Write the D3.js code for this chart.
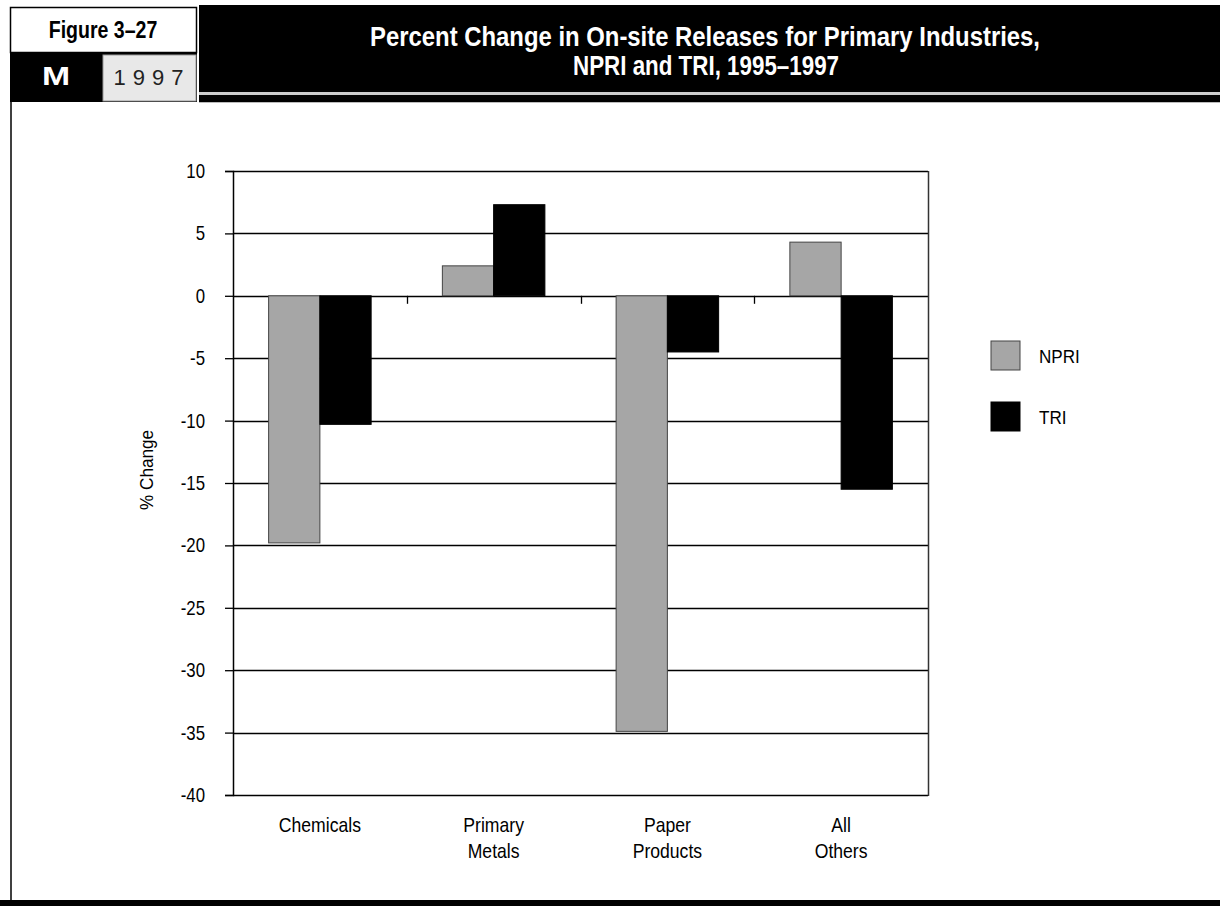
<!DOCTYPE html>
<html>
<head>
<meta charset="utf-8">
<script src="https://cdn.jsdelivr.net/npm/d3@7"></script>
<style>
  html, body { margin: 0; padding: 0; background: #fff; }
  svg { display: block; }
</style>
</head>
<body>
<svg id="chart" width="1220" height="906"></svg>
<script>
const categories = [["Chemicals"], ["Primary", "Metals"], ["Paper", "Products"], ["All", "Others"]];
const categoryKeys = ["Chemicals", "Primary Metals", "Paper Products", "All Others"];
const seriesNames = ["NPRI", "TRI"];
const npriValues = [-19.8, 2.4, -34.9, 4.3];
const triValues = [-10.3, 7.3, -4.5, -15.5];
const yTicks = [10, 5, 0, -5, -10, -15, -20, -25, -30, -35, -40];
const seriesColors = ["#a6a6a6", "#000000"];

const svg = d3.select("#chart");
const FONT = '"Liberation Sans", Arial, Helvetica, sans-serif';

function ctext(parent, x, y, str, opts) {
  const o = Object.assign({ size: 19, sx: 0.86, anchor: "start", weight: "normal", fill: "#000" }, opts || {});
  const gg = parent.append("g").attr("transform", `translate(${x},${y}) scale(${o.sx},1)`);
  const t = gg.append("text").attr("x", 0).attr("y", 0)
    .attr("text-anchor", o.anchor).attr("font-family", FONT)
    .attr("font-size", o.size).attr("font-weight", o.weight).attr("fill", o.fill).text(str);
  if (o.ls) t.attr("letter-spacing", o.ls);
  return gg;
}

// ---------- header ----------
svg.append("rect").attr("x", 10.5).attr("y", 7.5).attr("width", 186).attr("height", 45)
  .attr("fill", "#fff").attr("stroke", "#000").attr("stroke-width", 1.5);
ctext(svg, 103, 38, "Figure 3\u201327", { size: 23, sx: 0.85, anchor: "middle", weight: "bold" });

svg.append("rect").attr("x", 10).attr("y", 52).attr("width", 187).attr("height", 50).attr("fill", "#000");
ctext(svg, 56, 85, "M", { size: 26, sx: 1.3, anchor: "middle", weight: "bold", fill: "#fff" });
svg.append("rect").attr("x", 103).attr("y", 55).attr("width", 93).attr("height", 46)
  .attr("fill", "#e8e8e8").attr("stroke", "#999").attr("stroke-width", 1);
ctext(svg, 152, 85, "1997", { size: 22, sx: 1, anchor: "middle", fill: "#222", ls: "7px" });

svg.append("rect").attr("x", 199).attr("y", 5).attr("width", 1021).attr("height", 87).attr("fill", "#000");
svg.append("rect").attr("x", 199).attr("y", 92).attr("width", 1021).attr("height", 3).attr("fill", "#ccc");
svg.append("rect").attr("x", 199).attr("y", 95).attr("width", 1021).attr("height", 7).attr("fill", "#000");
svg.append("rect").attr("x", 199).attr("y", 102).attr("width", 1021).attr("height", 1).attr("fill", "#bbb");
svg.append("text").attr("x", 370).attr("y", 46)
  .attr("font-family", FONT).attr("font-weight", "bold").attr("font-size", 28).attr("fill", "#fff")
  .attr("textLength", 670).attr("lengthAdjust", "spacingAndGlyphs")
  .text("Percent Change in On-site Releases for Primary Industries,");
svg.append("text").attr("x", 573).attr("y", 75)
  .attr("font-family", FONT).attr("font-weight", "bold").attr("font-size", 28).attr("fill", "#fff")
  .attr("textLength", 266).attr("lengthAdjust", "spacingAndGlyphs")
  .text("NPRI and TRI, 1995\u20131997");

svg.append("line").attr("x1", 11).attr("x2", 11).attr("y1", 102).attr("y2", 900)
  .attr("stroke", "#000").attr("stroke-width", 1.5);
svg.append("rect").attr("x", 0).attr("y", 900).attr("width", 1220).attr("height", 6).attr("fill", "#000");

// ---------- chart ----------
const plot = { left: 233, right: 928, top: 171, bottom: 795 };

const y = d3.scaleLinear().domain([-40, 10]).range([plot.bottom, plot.top]);
const x0 = d3.scaleBand().domain(categoryKeys).range([plot.left, plot.right]).padding(0);
const x1 = d3.scaleBand().domain(seriesNames)
  .range([x0.bandwidth() * 0.205, x0.bandwidth() * 0.795]).padding(0);

const g = svg.append("g");

g.selectAll("line.grid").data(yTicks).join("line")
  .attr("x1", plot.left).attr("x2", plot.right)
  .attr("y1", d => Math.round(y(d)) + 0.5).attr("y2", d => Math.round(y(d)) + 0.5)
  .attr("stroke", "#000").attr("stroke-width", 1.3);

g.append("line").attr("x1", plot.right + 0.5).attr("x2", plot.right + 0.5)
  .attr("y1", plot.top).attr("y2", plot.bottom + 1)
  .attr("stroke", "#333").attr("stroke-width", 1.5);

const data = categoryKeys.map((c, i) => ({ cat: c, vals: [
  { s: "NPRI", v: npriValues[i] }, { s: "TRI", v: triValues[i] } ] }));

const groups = g.selectAll("g.cat").data(data).join("g")
  .attr("transform", d => `translate(${x0(d.cat)},0)`);
groups.selectAll("rect").data(d => d.vals).join("rect")
  .attr("x", d => x1(d.s))
  .attr("width", x1.bandwidth())
  .attr("y", d => y(Math.max(0, d.v)))
  .attr("height", d => Math.abs(y(d.v) - y(0)))
  .attr("fill", d => seriesColors[seriesNames.indexOf(d.s)])
  .attr("stroke", d => d.s === "NPRI" ? "#444" : "#000")
  .attr("stroke-width", 1);

const yAxis = d3.axisLeft(y).tickValues(yTicks).tickSize(8).tickFormat("");
const ya = svg.append("g").attr("transform", `translate(${plot.left},0)`).call(yAxis);
ya.select(".domain").attr("stroke", "#000").attr("stroke-width", 1.5);
ya.selectAll(".tick line").attr("stroke", "#000").attr("stroke-width", 1.3);
yTicks.forEach(t => {
  ctext(svg, 205, y(t) + 7, String(t), { size: 20, sx: 0.84, anchor: "end" });
});

g.selectAll("line.ctick").data(categoryKeys.slice(1)).join("line")
  .attr("x1", d => Math.round(x0(d)) + 0.5).attr("x2", d => Math.round(x0(d)) + 0.5)
  .attr("y1", y(0)).attr("y2", y(0) + 8)
  .attr("stroke", "#000").attr("stroke-width", 1.3);

categories.forEach((lines, i) => {
  const cx = x0(categoryKeys[i]) + x0.bandwidth() / 2;
  lines.forEach((ln, j) => ctext(svg, cx, 832 + j * 26, ln, { size: 20, sx: 0.88, anchor: "middle" }));
});

svg.append("g").attr("transform", "translate(153,470) rotate(-90) scale(0.9,1)")
  .append("text").attr("text-anchor", "middle").attr("font-family", FONT).attr("font-size", 19)
  .text("% Change");

const legendY = [341, 402];
svg.append("g").selectAll("rect").data(seriesNames).join("rect")
  .attr("x", 991).attr("y", (d, i) => legendY[i])
  .attr("width", 29).attr("height", 29)
  .attr("fill", (d, i) => seriesColors[i])
  .attr("stroke", (d, i) => i === 0 ? "#444" : "#000").attr("stroke-width", 1);
seriesNames.forEach((s, i) => ctext(svg, 1039, legendY[i] + 22, s, { size: 19, sx: 0.9 }));
</script>
</body>
</html>
